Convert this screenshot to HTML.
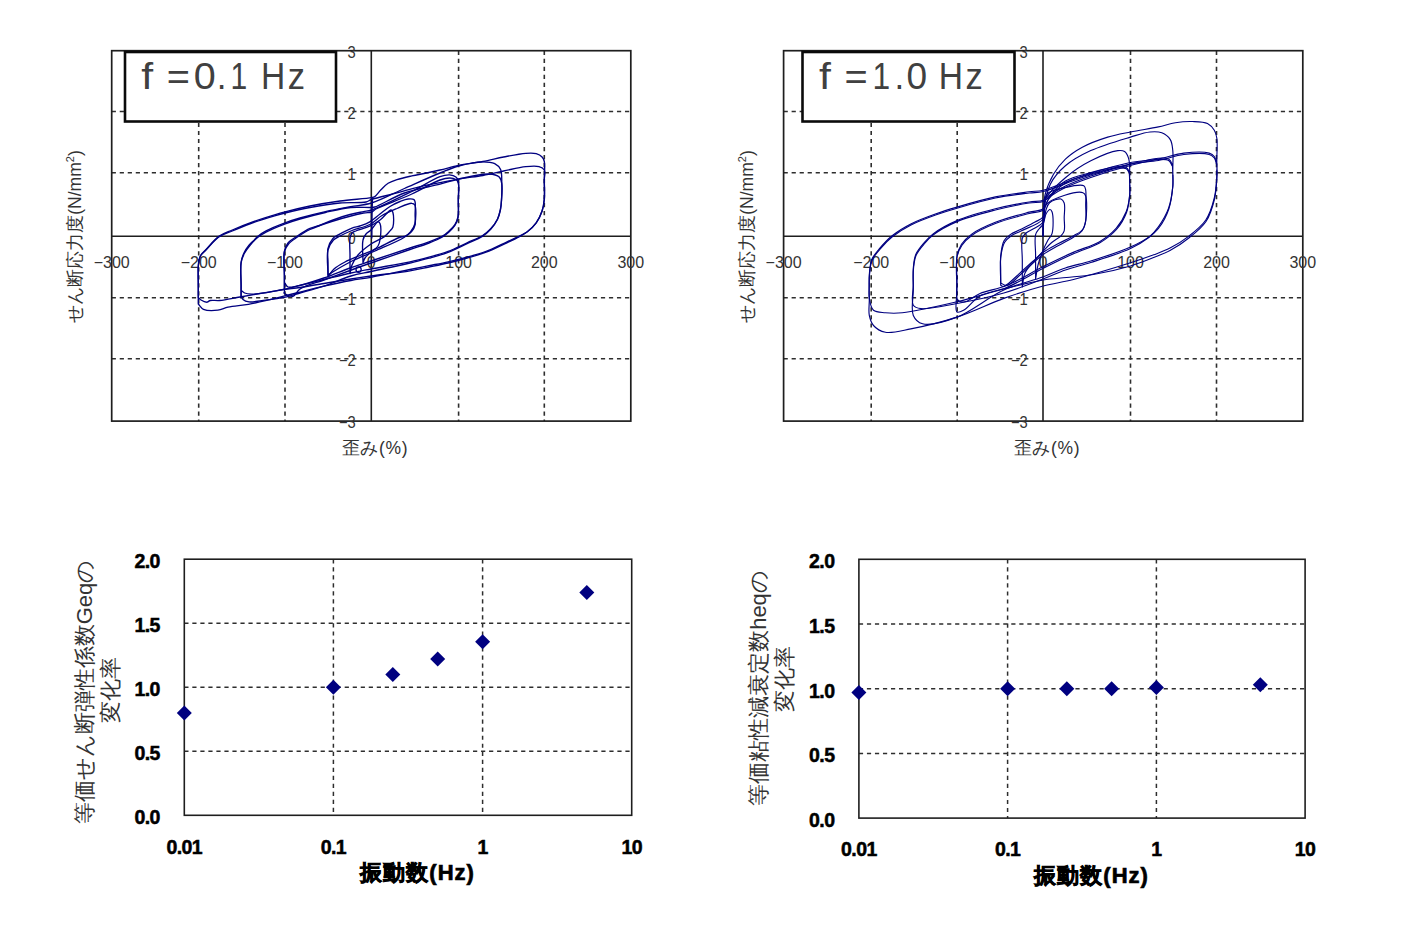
<!DOCTYPE html><html><head><meta charset="utf-8"><style>html,body{margin:0;padding:0;background:#fff;width:1422px;height:946px;overflow:hidden}svg{display:block}text{font-family:"Liberation Sans",sans-serif}</style></head><body>
<svg width="1422" height="946" viewBox="0 0 1422 946">
<line x1="198.7" y1="50.7" x2="198.7" y2="421.1" stroke="#2e2e2e" stroke-width="1.6" stroke-dasharray="4.2 3.82"/>
<line x1="111.7" y1="111.5" x2="630.8" y2="111.5" stroke="#2e2e2e" stroke-width="1.6" stroke-dasharray="4.2 3.82"/>
<line x1="285.0" y1="50.7" x2="285.0" y2="421.1" stroke="#2e2e2e" stroke-width="1.6" stroke-dasharray="4.2 3.82"/>
<line x1="111.7" y1="172.8" x2="630.8" y2="172.8" stroke="#2e2e2e" stroke-width="1.6" stroke-dasharray="4.2 3.82"/>
<line x1="458.6" y1="50.7" x2="458.6" y2="421.1" stroke="#2e2e2e" stroke-width="1.6" stroke-dasharray="4.2 3.82"/>
<line x1="111.7" y1="297.7" x2="630.8" y2="297.7" stroke="#2e2e2e" stroke-width="1.6" stroke-dasharray="4.2 3.82"/>
<line x1="544.3" y1="50.7" x2="544.3" y2="421.1" stroke="#2e2e2e" stroke-width="1.6" stroke-dasharray="4.2 3.82"/>
<line x1="111.7" y1="358.8" x2="630.8" y2="358.8" stroke="#2e2e2e" stroke-width="1.6" stroke-dasharray="4.2 3.82"/>
<line x1="371.3" y1="50.7" x2="371.3" y2="421.1" stroke="#1e1e1e" stroke-width="1.6"/>
<line x1="111.7" y1="236.3" x2="630.8" y2="236.3" stroke="#1e1e1e" stroke-width="1.6"/>
<rect x="111.7" y="50.7" width="519.1" height="370.4" fill="none" stroke="#1e1e1e" stroke-width="1.7"/>
<text transform="translate(355.8,58.0) scale(0.92,1)" font-size="16" fill="#333" text-anchor="end">3</text>
<text transform="translate(355.8,118.8) scale(0.92,1)" font-size="16" fill="#333" text-anchor="end">2</text>
<text transform="translate(355.8,180.1) scale(0.92,1)" font-size="16" fill="#333" text-anchor="end">1</text>
<text transform="translate(355.8,243.6) scale(0.92,1)" font-size="16" fill="#333" text-anchor="end">0</text>
<text transform="translate(355.8,305.0) scale(0.92,1)" font-size="16" fill="#333" text-anchor="end">−1</text>
<text transform="translate(355.8,366.1) scale(0.92,1)" font-size="16" fill="#333" text-anchor="end">−2</text>
<text transform="translate(355.8,428.4) scale(0.92,1)" font-size="16" fill="#333" text-anchor="end">−3</text>
<text x="111.7" y="268" font-size="16" fill="#333" text-anchor="middle">−300</text>
<text x="198.7" y="268" font-size="16" fill="#333" text-anchor="middle">−200</text>
<text x="285.0" y="268" font-size="16" fill="#333" text-anchor="middle">−100</text>
<text x="371.3" y="268" font-size="16" fill="#333" text-anchor="middle">0</text>
<text x="458.6" y="268" font-size="16" fill="#333" text-anchor="middle">100</text>
<text x="544.3" y="268" font-size="16" fill="#333" text-anchor="middle">200</text>
<text x="630.8" y="268" font-size="16" fill="#333" text-anchor="middle">300</text>
<text x="375" y="454.3" font-size="17.5" fill="#333" font-weight="300" text-anchor="middle" letter-spacing="0.6">歪み(%)</text>
<text transform="translate(81,236.5) rotate(-90)" font-size="17.5" fill="#333" font-weight="300" text-anchor="middle">せん断応力度(N/mm<tspan font-size="11" dy="-7">2</tspan><tspan dy="7">)</tspan></text>
<rect x="125.0" y="52" width="211" height="69.5" fill="#fff" stroke="#0a0a0a" stroke-width="2.6"/>
<text transform="translate(142.5,88.8) scale(1.222,1.03)" x="-1" font-size="35" fill="#404040">f</text>
<text transform="translate(169.0,88.8) scale(1.135,1.03)" x="-2" font-size="35" fill="#404040">=</text>
<text transform="translate(195.0,88.8) scale(1.129,1.03)" x="-1" font-size="35" fill="#404040">0</text>
<text transform="translate(219.7,88.8) scale(1.000,1.03)" x="-3" font-size="35" fill="#404040">.</text>
<text transform="translate(233.0,88.8) scale(0.860,1.03)" x="-3" font-size="35" fill="#404040">1</text>
<text transform="translate(264.0,88.8) scale(0.960,1.03)" x="-3" font-size="35" fill="#404040">H</text>
<text transform="translate(288.7,88.8) scale(0.987,1.03)" x="-1" font-size="35" fill="#404040">z</text>
<line x1="871.2" y1="50.7" x2="871.2" y2="421.1" stroke="#2e2e2e" stroke-width="1.6" stroke-dasharray="4.2 3.82"/>
<line x1="783.6" y1="111.5" x2="1302.8" y2="111.5" stroke="#2e2e2e" stroke-width="1.6" stroke-dasharray="4.2 3.82"/>
<line x1="957.2" y1="50.7" x2="957.2" y2="421.1" stroke="#2e2e2e" stroke-width="1.6" stroke-dasharray="4.2 3.82"/>
<line x1="783.6" y1="172.8" x2="1302.8" y2="172.8" stroke="#2e2e2e" stroke-width="1.6" stroke-dasharray="4.2 3.82"/>
<line x1="1130.5" y1="50.7" x2="1130.5" y2="421.1" stroke="#2e2e2e" stroke-width="1.6" stroke-dasharray="4.2 3.82"/>
<line x1="783.6" y1="297.7" x2="1302.8" y2="297.7" stroke="#2e2e2e" stroke-width="1.6" stroke-dasharray="4.2 3.82"/>
<line x1="1216.5" y1="50.7" x2="1216.5" y2="421.1" stroke="#2e2e2e" stroke-width="1.6" stroke-dasharray="4.2 3.82"/>
<line x1="783.6" y1="358.8" x2="1302.8" y2="358.8" stroke="#2e2e2e" stroke-width="1.6" stroke-dasharray="4.2 3.82"/>
<line x1="1043.0" y1="50.7" x2="1043.0" y2="421.1" stroke="#1e1e1e" stroke-width="1.6"/>
<line x1="783.6" y1="236.3" x2="1302.8" y2="236.3" stroke="#1e1e1e" stroke-width="1.6"/>
<rect x="783.6" y="50.7" width="519.2" height="370.4" fill="none" stroke="#1e1e1e" stroke-width="1.7"/>
<text transform="translate(1027.8,58.0) scale(0.92,1)" font-size="16" fill="#333" text-anchor="end">3</text>
<text transform="translate(1027.8,118.8) scale(0.92,1)" font-size="16" fill="#333" text-anchor="end">2</text>
<text transform="translate(1027.8,180.1) scale(0.92,1)" font-size="16" fill="#333" text-anchor="end">1</text>
<text transform="translate(1027.8,243.6) scale(0.92,1)" font-size="16" fill="#333" text-anchor="end">0</text>
<text transform="translate(1027.8,305.0) scale(0.92,1)" font-size="16" fill="#333" text-anchor="end">−1</text>
<text transform="translate(1027.8,366.1) scale(0.92,1)" font-size="16" fill="#333" text-anchor="end">−2</text>
<text transform="translate(1027.8,428.4) scale(0.92,1)" font-size="16" fill="#333" text-anchor="end">−3</text>
<text x="783.6" y="268" font-size="16" fill="#333" text-anchor="middle">−300</text>
<text x="871.2" y="268" font-size="16" fill="#333" text-anchor="middle">−200</text>
<text x="957.2" y="268" font-size="16" fill="#333" text-anchor="middle">−100</text>
<text x="1043.0" y="268" font-size="16" fill="#333" text-anchor="middle">0</text>
<text x="1130.5" y="268" font-size="16" fill="#333" text-anchor="middle">100</text>
<text x="1216.5" y="268" font-size="16" fill="#333" text-anchor="middle">200</text>
<text x="1302.8" y="268" font-size="16" fill="#333" text-anchor="middle">300</text>
<text x="1047" y="454.3" font-size="17.5" fill="#333" font-weight="300" text-anchor="middle" letter-spacing="0.6">歪み(%)</text>
<text transform="translate(753,236.5) rotate(-90)" font-size="17.5" fill="#333" font-weight="300" text-anchor="middle">せん断応力度(N/mm<tspan font-size="11" dy="-7">2</tspan><tspan dy="7">)</tspan></text>
<rect x="802.5" y="52" width="212" height="69.5" fill="#fff" stroke="#0a0a0a" stroke-width="2.6"/>
<text transform="translate(820.2,88.8) scale(1.222,1.03)" x="-1" font-size="35" fill="#404040">f</text>
<text transform="translate(846.7,88.8) scale(1.135,1.03)" x="-2" font-size="35" fill="#404040">=</text>
<text transform="translate(875.2,88.8) scale(0.907,1.03)" x="-3" font-size="35" fill="#404040">1</text>
<text transform="translate(897.4,88.8) scale(1.000,1.03)" x="-3" font-size="35" fill="#404040">.</text>
<text transform="translate(907.5,88.8) scale(1.059,1.03)" x="-1" font-size="35" fill="#404040">0</text>
<text transform="translate(941.7,88.8) scale(0.960,1.03)" x="-3" font-size="35" fill="#404040">H</text>
<text transform="translate(966.4,88.8) scale(0.987,1.03)" x="-1" font-size="35" fill="#404040">z</text>
<line x1="333.4" y1="559.2" x2="333.4" y2="815.3" stroke="#2e2e2e" stroke-width="1.5" stroke-dasharray="4.2 3.82"/>
<line x1="482.6" y1="559.2" x2="482.6" y2="815.3" stroke="#2e2e2e" stroke-width="1.5" stroke-dasharray="4.2 3.82"/>
<line x1="184.3" y1="623.2" x2="631.7" y2="623.2" stroke="#2e2e2e" stroke-width="1.5" stroke-dasharray="4.2 3.82"/>
<line x1="184.3" y1="687.2" x2="631.7" y2="687.2" stroke="#2e2e2e" stroke-width="1.5" stroke-dasharray="4.2 3.82"/>
<line x1="184.3" y1="751.3" x2="631.7" y2="751.3" stroke="#2e2e2e" stroke-width="1.5" stroke-dasharray="4.2 3.82"/>
<rect x="184.3" y="559.2" width="447.4" height="256.1" fill="none" stroke="#1e1e1e" stroke-width="1.6"/>
<text x="159.8" y="568.2" font-size="19.5" font-weight="bold" fill="#000" stroke="#000" stroke-width="0.5" text-anchor="end" letter-spacing="-0.6">2.0</text>
<text x="159.8" y="632.2" font-size="19.5" font-weight="bold" fill="#000" stroke="#000" stroke-width="0.5" text-anchor="end" letter-spacing="-0.6">1.5</text>
<text x="159.8" y="696.2" font-size="19.5" font-weight="bold" fill="#000" stroke="#000" stroke-width="0.5" text-anchor="end" letter-spacing="-0.6">1.0</text>
<text x="159.8" y="760.3" font-size="19.5" font-weight="bold" fill="#000" stroke="#000" stroke-width="0.5" text-anchor="end" letter-spacing="-0.6">0.5</text>
<text x="159.8" y="824.3" font-size="19.5" font-weight="bold" fill="#000" stroke="#000" stroke-width="0.5" text-anchor="end" letter-spacing="-0.6">0.0</text>
<text x="184.3" y="853.6" font-size="19.5" font-weight="bold" fill="#000" stroke="#000" stroke-width="0.5" text-anchor="middle" letter-spacing="-0.6">0.01</text>
<text x="333.4" y="853.6" font-size="19.5" font-weight="bold" fill="#000" stroke="#000" stroke-width="0.5" text-anchor="middle" letter-spacing="-0.6">0.1</text>
<text x="482.6" y="853.6" font-size="19.5" font-weight="bold" fill="#000" stroke="#000" stroke-width="0.5" text-anchor="middle" letter-spacing="-0.6">1</text>
<text x="631.7" y="853.6" font-size="19.5" font-weight="bold" fill="#000" stroke="#000" stroke-width="0.5" text-anchor="middle" letter-spacing="-0.6">10</text>
<text x="417.6" y="879.8" font-size="22" font-weight="bold" fill="#000" stroke="#000" stroke-width="0.7" text-anchor="middle" letter-spacing="1">振動数(Hz)</text>
<path d="M184.3 705.4L191.8 712.9L184.3 720.4L176.8 712.9Z" fill="#000080"/>
<path d="M333.4 679.8L340.9 687.2L333.4 694.8L325.9 687.2Z" fill="#000080"/>
<path d="M392.8 666.9L400.3 674.4L392.8 681.9L385.3 674.4Z" fill="#000080"/>
<path d="M437.7 651.6L445.2 659.1L437.7 666.6L430.2 659.1Z" fill="#000080"/>
<path d="M482.6 634.3L490.1 641.8L482.6 649.3L475.1 641.8Z" fill="#000080"/>
<path d="M586.8 585.0L594.3 592.5L586.8 600.0L579.3 592.5Z" fill="#000080"/>
<text transform="translate(92,692) rotate(-90)" font-size="22" fill="#333" font-weight="300" text-anchor="middle">等価せん断弾性係数Geqの</text>
<text transform="translate(118,690) rotate(-90)" font-size="22" fill="#333" font-weight="300" text-anchor="middle">変化率</text>
<line x1="1007.6" y1="559.3" x2="1007.6" y2="818.1" stroke="#2e2e2e" stroke-width="1.5" stroke-dasharray="4.2 3.82"/>
<line x1="1156.4" y1="559.3" x2="1156.4" y2="818.1" stroke="#2e2e2e" stroke-width="1.5" stroke-dasharray="4.2 3.82"/>
<line x1="858.9" y1="624.0" x2="1305.1" y2="624.0" stroke="#2e2e2e" stroke-width="1.5" stroke-dasharray="4.2 3.82"/>
<line x1="858.9" y1="688.7" x2="1305.1" y2="688.7" stroke="#2e2e2e" stroke-width="1.5" stroke-dasharray="4.2 3.82"/>
<line x1="858.9" y1="753.4" x2="1305.1" y2="753.4" stroke="#2e2e2e" stroke-width="1.5" stroke-dasharray="4.2 3.82"/>
<rect x="858.9" y="559.3" width="446.2" height="258.8" fill="none" stroke="#1e1e1e" stroke-width="1.6"/>
<text x="834.4" y="568.3" font-size="19.5" font-weight="bold" fill="#000" stroke="#000" stroke-width="0.5" text-anchor="end" letter-spacing="-0.6">2.0</text>
<text x="834.4" y="633.0" font-size="19.5" font-weight="bold" fill="#000" stroke="#000" stroke-width="0.5" text-anchor="end" letter-spacing="-0.6">1.5</text>
<text x="834.4" y="697.7" font-size="19.5" font-weight="bold" fill="#000" stroke="#000" stroke-width="0.5" text-anchor="end" letter-spacing="-0.6">1.0</text>
<text x="834.4" y="762.4" font-size="19.5" font-weight="bold" fill="#000" stroke="#000" stroke-width="0.5" text-anchor="end" letter-spacing="-0.6">0.5</text>
<text x="834.4" y="827.1" font-size="19.5" font-weight="bold" fill="#000" stroke="#000" stroke-width="0.5" text-anchor="end" letter-spacing="-0.6">0.0</text>
<text x="858.9" y="856.4" font-size="19.5" font-weight="bold" fill="#000" stroke="#000" stroke-width="0.5" text-anchor="middle" letter-spacing="-0.6">0.01</text>
<text x="1007.6" y="856.4" font-size="19.5" font-weight="bold" fill="#000" stroke="#000" stroke-width="0.5" text-anchor="middle" letter-spacing="-0.6">0.1</text>
<text x="1156.4" y="856.4" font-size="19.5" font-weight="bold" fill="#000" stroke="#000" stroke-width="0.5" text-anchor="middle" letter-spacing="-0.6">1</text>
<text x="1305.1" y="856.4" font-size="19.5" font-weight="bold" fill="#000" stroke="#000" stroke-width="0.5" text-anchor="middle" letter-spacing="-0.6">10</text>
<text x="1091.6" y="882.6" font-size="22" font-weight="bold" fill="#000" stroke="#000" stroke-width="0.7" text-anchor="middle" letter-spacing="1">振動数(Hz)</text>
<path d="M858.9 685.1L866.4 692.6L858.9 700.1L851.4 692.6Z" fill="#000080"/>
<path d="M1007.6 681.2L1015.1 688.7L1007.6 696.2L1000.1 688.7Z" fill="#000080"/>
<path d="M1066.8 681.2L1074.3 688.7L1066.8 696.2L1059.3 688.7Z" fill="#000080"/>
<path d="M1111.6 681.2L1119.1 688.7L1111.6 696.2L1104.1 688.7Z" fill="#000080"/>
<path d="M1156.4 679.9L1163.9 687.4L1156.4 694.9L1148.9 687.4Z" fill="#000080"/>
<path d="M1260.3 677.3L1267.8 684.8L1260.3 692.3L1252.8 684.8Z" fill="#000080"/>
<text transform="translate(766,688) rotate(-90)" font-size="22" fill="#333" font-weight="300" text-anchor="middle">等価粘性減衰定数heqの</text>
<text transform="translate(792,679) rotate(-90)" font-size="22" fill="#333" font-weight="300" text-anchor="middle">変化率</text>
<g fill="none" stroke="#000080" stroke-width="1.35" stroke-linejoin="round" stroke-linecap="round">
<path d="M198.3 304.0C198.3 297.7 198.3 291.5 198.3 285.0C198.3 278.2 197.8 269.4 198.5 264.0C198.9 260.5 199.2 257.9 200.5 255.5C201.7 253.1 203.8 251.9 206.0 249.5C209.4 246.0 214.2 239.7 218.8 236.4C223.0 233.4 227.3 232.2 232.3 230.0C238.5 227.3 246.3 224.1 253.4 221.6C260.4 219.1 268.7 216.5 274.6 214.8C278.7 213.6 280.8 213.0 285.1 211.9C291.6 210.2 301.3 207.8 310.0 206.0C319.5 204.1 329.9 202.4 340.0 201.0C350.4 199.6 366.4 198.6 371.5 197.6C373.2 197.3 373.7 197.3 374.8 196.6C376.6 195.4 378.6 192.2 380.7 190.0C383.0 187.7 385.4 185.0 388.1 183.3C390.8 181.6 393.6 180.7 397.0 179.6C401.3 178.2 406.9 177.0 411.8 175.9C416.7 174.8 421.8 174.0 426.6 173.0C431.2 172.0 435.2 171.1 440.0 170.0C445.7 168.7 452.0 166.8 458.6 165.4C466.1 163.9 475.1 163.0 482.9 161.5C490.1 160.1 496.6 158.4 503.6 157.0C510.9 155.6 519.8 153.7 525.8 153.3C529.9 153.0 533.3 152.8 536.2 153.6C538.5 154.3 540.7 155.5 542.1 157.0C543.3 158.3 543.8 159.4 544.3 161.5C545.2 165.5 544.3 173.8 544.3 180.0C544.3 186.3 544.8 193.6 544.3 199.2C543.9 203.6 543.4 207.1 542.1 211.0C540.7 215.1 538.7 219.4 536.2 222.9C533.8 226.3 530.3 229.5 527.3 231.8C524.7 233.7 522.5 234.6 519.4 236.2C515.4 238.2 510.2 240.5 505.1 242.8C499.2 245.5 492.5 249.0 486.1 251.4C479.8 253.7 473.5 255.4 467.1 257.1C460.8 258.8 454.5 260.4 448.1 261.8C441.8 263.2 435.4 264.4 429.0 265.7C422.7 267.0 417.5 268.0 410.0 269.5C399.3 271.6 381.9 275.3 371.0 277.3C363.2 278.7 358.1 279.2 350.9 280.5C342.5 282.0 333.1 284.0 323.9 286.1C314.2 288.3 303.7 291.2 294.3 293.5C285.8 295.6 277.9 297.8 270.0 299.6C262.6 301.3 255.5 303.0 248.4 304.3C241.5 305.5 233.6 306.0 228.0 307.2C224.0 308.1 221.6 309.8 217.9 310.2C213.6 310.7 206.9 310.9 203.5 309.3C201.1 308.2 200.0 305.8 198.3 304.0"/>
<path d="M198.3 297.5C198.3 293.3 198.3 289.7 198.3 285.0C198.3 278.9 197.8 269.3 198.5 264.0C198.9 260.7 199.2 258.3 200.5 256.0C201.7 253.7 203.8 252.4 206.0 250.0C209.4 246.5 214.1 240.2 218.8 237.0C223.0 234.1 227.3 233.1 232.3 231.0C238.5 228.4 246.3 225.0 253.4 222.5C260.4 220.0 268.7 217.5 274.6 215.8C278.7 214.6 280.8 214.0 285.1 213.0C291.6 211.4 301.3 209.1 310.0 207.5C319.5 205.7 330.3 203.9 340.0 203.0C349.0 202.2 360.6 203.3 366.0 202.0C368.6 201.4 368.9 200.4 371.5 199.5C376.8 197.6 388.8 195.1 397.0 192.9C404.7 190.9 410.7 188.9 419.2 186.9C430.4 184.3 447.0 181.1 458.6 179.1C467.7 177.5 475.1 176.9 482.9 175.5C490.1 174.2 496.6 172.5 503.6 171.0C510.9 169.5 519.3 167.2 525.8 166.6C530.7 166.1 535.7 165.6 539.0 166.6C541.3 167.3 543.3 168.2 544.3 170.0C545.5 172.3 544.3 176.1 544.3 180.0C544.3 185.4 544.8 193.6 544.3 199.2C543.9 203.6 543.4 207.1 542.1 211.0C540.7 215.1 538.7 219.4 536.2 222.9C533.8 226.3 530.3 229.4 527.3 231.8C524.7 233.8 522.5 234.9 519.4 236.6C515.4 238.8 510.2 241.2 505.1 243.6C499.2 246.4 492.5 249.8 486.1 252.2C479.8 254.6 473.5 256.2 467.1 258.0C460.8 259.8 454.5 261.5 448.1 263.0C441.8 264.5 435.4 265.7 429.0 267.0C422.7 268.3 417.5 269.6 410.0 270.8C399.3 272.6 381.9 274.5 371.0 276.0C363.2 277.1 358.1 277.9 350.9 279.0C342.6 280.3 332.6 282.0 323.9 283.5C315.7 284.9 307.1 286.4 300.0 287.5C294.3 288.3 289.5 288.8 284.4 289.5C279.5 290.2 275.7 290.9 270.0 291.8C261.8 293.2 248.9 295.4 239.9 297.0C232.5 298.3 225.1 300.0 219.6 300.5C215.9 300.8 212.6 300.0 210.3 300.5C208.8 300.8 208.2 302.1 206.9 302.2C205.2 302.3 202.5 300.9 201.0 300.0C199.8 299.3 199.2 298.3 198.3 297.5"/>
<path d="M241.1 297.0C241.1 293.0 241.1 289.6 241.1 285.0C241.1 278.6 240.2 267.9 241.1 262.0C241.7 258.2 242.7 255.6 244.1 252.7C245.4 249.9 247.4 247.2 249.2 245.0C250.8 243.1 252.8 241.5 254.3 240.0C255.6 238.7 256.2 237.6 257.7 236.4C259.8 234.6 262.6 232.7 266.1 230.9C271.1 228.3 279.1 225.1 285.1 222.9C290.3 220.9 294.3 219.6 300.0 218.0C307.3 215.9 316.9 213.5 325.4 211.6C333.8 209.7 342.8 208.1 350.8 206.6C358.0 205.3 364.0 205.3 371.5 203.0C381.4 200.0 393.2 193.4 404.4 188.5C416.0 183.4 430.0 177.0 440.0 173.0C447.2 170.1 452.1 167.8 458.8 166.0C466.2 164.0 476.3 161.8 482.9 161.8C487.5 161.8 491.6 162.1 494.7 163.7C497.3 165.0 499.4 166.9 500.6 169.6C502.2 173.1 501.6 179.1 501.8 184.0C502.0 189.2 501.8 195.4 501.5 200.0C501.3 203.6 501.1 206.4 500.4 209.5C499.7 212.7 499.0 215.9 497.5 219.0C495.9 222.3 493.5 225.7 490.9 228.5C488.4 231.3 485.7 233.5 482.3 235.7C478.1 238.4 472.5 240.3 467.1 242.8C461.1 245.5 454.5 249.0 448.1 251.4C441.8 253.7 435.4 255.4 429.0 257.1C422.7 258.8 417.5 260.2 410.0 261.8C399.3 264.1 381.9 266.9 371.0 269.0C363.2 270.5 358.1 271.4 350.9 273.0C342.5 274.8 332.6 277.4 323.9 279.5C315.7 281.5 307.1 283.7 300.0 285.4C294.3 286.8 289.8 288.1 284.5 289.2C279.1 290.4 273.5 291.5 268.0 292.3C262.5 293.1 255.9 294.3 251.6 294.2C248.8 294.1 246.5 293.8 244.6 293.0C243.1 292.4 242.3 291.3 241.1 290.4"/>
<path d="M241.1 296.0C241.1 292.3 241.1 289.3 241.1 285.0C241.1 278.9 240.2 268.8 241.1 263.0C241.7 259.1 242.8 256.4 244.3 253.5C245.7 250.7 247.4 248.5 249.5 246.0C251.9 243.1 254.9 239.6 257.9 237.2C260.6 235.0 263.0 233.6 266.5 231.8C271.5 229.2 279.4 226.0 285.3 223.8C290.5 221.9 294.4 220.6 300.0 219.0C307.3 216.9 316.9 214.4 325.4 212.5C333.8 210.6 342.7 208.3 350.8 207.5C358.0 206.8 367.6 207.8 371.5 207.5C373.1 207.4 373.2 207.5 374.8 207.0C379.8 205.5 393.9 196.8 404.4 193.0C415.5 189.0 430.0 186.7 440.0 184.1C447.3 182.2 451.8 180.5 458.8 179.0C467.6 177.1 481.4 173.6 488.8 174.0C493.2 174.3 497.1 175.0 499.2 177.0C501.0 178.7 501.3 181.1 501.8 184.0C502.5 188.2 501.8 195.3 501.5 200.0C501.3 203.7 501.1 206.7 500.4 210.0C499.7 213.2 499.0 216.4 497.5 219.5C495.9 222.8 493.4 226.2 490.9 229.0C488.4 231.8 485.8 234.2 482.3 236.4C478.1 239.1 472.5 241.1 467.1 243.6C461.1 246.4 454.5 249.8 448.1 252.3C441.8 254.7 435.4 256.4 429.0 258.2C422.7 260.0 417.5 261.2 410.0 263.0C399.3 265.5 381.9 269.1 371.0 271.5C363.2 273.2 358.0 273.9 350.9 276.0C342.5 278.5 332.7 283.2 323.9 286.1C315.7 288.8 307.1 291.0 300.0 293.0C294.3 294.6 290.2 296.2 284.5 297.4C277.7 298.8 268.2 299.8 261.7 300.6C256.9 301.2 252.4 302.4 249.0 301.9C246.6 301.6 244.3 300.7 243.0 299.5C242.0 298.6 241.7 297.2 241.1 296.1"/>
<path d="M284.4 293.0C284.4 287.0 284.4 281.4 284.4 275.0C284.4 267.6 283.2 256.9 284.4 251.1C285.1 247.6 286.1 245.4 288.0 243.0C290.1 240.3 293.7 238.5 297.0 236.2C300.9 233.6 305.9 230.2 310.0 228.4C313.3 226.9 316.1 226.7 319.4 225.5C323.3 224.1 327.2 222.2 331.7 220.5C337.2 218.5 344.3 216.0 350.0 214.5C354.8 213.2 359.6 212.4 363.5 211.6C366.5 211.0 367.9 211.2 371.5 210.0C379.9 207.3 399.6 197.5 411.8 191.5C422.1 186.4 432.9 179.2 440.0 176.7C443.9 175.3 446.8 174.7 449.6 174.9C451.9 175.1 454.4 175.8 455.9 177.0C457.2 178.0 457.8 179.2 458.3 181.2C459.3 185.1 458.4 193.9 458.3 200.0C458.2 205.8 458.9 212.5 458.0 217.0C457.4 220.1 456.4 222.3 454.9 224.6C453.4 227.0 451.1 229.1 449.0 231.0C446.9 232.9 445.1 234.6 442.4 236.2C438.8 238.3 433.9 240.1 429.0 241.9C423.3 244.0 417.5 245.6 410.0 248.0C399.3 251.5 382.0 257.3 371.0 261.0C362.9 263.7 357.3 265.4 350.0 268.0C341.7 271.0 332.7 275.0 323.9 278.0C315.1 281.0 303.6 284.8 297.0 286.1C293.2 286.8 290.2 287.9 288.0 287.0C286.3 286.3 285.6 284.0 284.4 282.5"/>
<path d="M284.4 289.0C284.4 284.3 284.4 280.2 284.4 275.0C284.4 268.3 283.1 257.6 284.4 252.0C285.2 248.5 286.5 246.4 288.5 244.0C290.7 241.3 294.2 239.3 297.5 237.0C301.3 234.4 305.1 231.8 310.0 229.5C316.1 226.6 323.7 224.0 331.7 221.5C341.2 218.5 356.4 214.4 363.5 213.0C367.0 212.3 369.3 212.8 371.5 212.0C373.3 211.3 373.7 210.2 376.0 209.0C382.2 205.7 400.7 199.1 411.8 194.0C421.8 189.4 433.0 182.4 440.0 180.0C443.9 178.6 446.7 178.0 449.6 178.0C451.9 178.0 454.4 178.5 455.9 179.5C457.1 180.3 457.8 181.3 458.3 183.0C459.4 186.4 458.3 194.3 458.3 200.0C458.3 205.8 458.9 212.9 458.0 217.5C457.4 220.8 456.4 223.1 454.9 225.5C453.4 227.9 451.1 230.1 449.0 232.0C446.9 233.9 445.1 235.4 442.4 237.0C438.8 239.1 433.9 241.1 429.0 243.0C423.3 245.3 417.5 246.9 410.0 249.5C399.3 253.2 382.0 259.1 371.0 263.0C362.9 265.8 357.4 267.8 350.0 270.5C341.8 273.5 332.4 276.9 323.9 280.0C315.7 283.0 305.2 285.5 300.0 289.0C296.8 291.2 295.8 295.3 293.4 296.1C291.4 296.8 288.7 295.7 287.0 295.0C285.7 294.5 284.9 293.7 283.9 293.0"/>
<path d="M328.0 277.1C328.0 272.1 328.0 266.9 328.0 262.0C328.0 257.3 327.0 252.5 328.0 248.4C328.9 244.7 330.9 240.8 332.9 238.5C334.5 236.7 336.0 236.2 338.3 234.9C341.8 232.9 348.0 229.6 352.0 228.1C354.9 227.0 357.1 226.9 359.8 226.0C363.0 224.9 366.6 223.7 369.8 221.8C373.3 219.8 376.6 216.6 380.0 214.0C383.3 211.5 386.6 208.6 390.0 206.5C393.2 204.5 396.8 202.8 400.0 201.5C402.8 200.4 405.6 199.2 408.1 199.0C410.2 198.8 412.9 198.8 414.0 199.6C414.7 200.1 414.8 200.8 415.1 202.0C415.7 204.6 415.1 211.0 415.1 215.0C415.1 218.5 415.8 221.9 415.1 224.8C414.5 227.3 413.3 229.6 411.8 231.4C410.3 233.3 408.0 234.9 405.9 235.9C403.9 236.9 402.2 236.5 399.4 237.5C393.8 239.5 382.2 246.2 375.0 249.4C369.4 251.9 365.0 253.4 360.0 255.5C355.0 257.6 349.5 259.6 345.0 262.0C341.0 264.1 336.6 266.6 334.0 269.0C332.2 270.7 331.1 272.5 330.0 274.0C329.2 275.1 328.7 276.1 328.0 277.1"/>
<path d="M328.0 275.0C328.0 266.7 326.4 256.3 328.0 250.0C329.1 245.7 331.2 242.4 333.5 240.0C335.4 238.0 337.5 237.4 340.0 236.0C343.3 234.2 347.6 232.3 352.0 230.5C357.3 228.4 364.6 227.2 369.8 224.5C374.5 222.1 377.6 218.1 382.0 215.5C386.6 212.8 392.0 210.6 397.0 208.5C401.9 206.5 408.8 203.0 411.8 203.3C413.2 203.4 414.1 203.8 414.8 205.0C416.4 207.8 416.0 219.1 414.8 224.0C414.0 227.4 412.3 229.7 410.5 232.0C408.7 234.2 407.1 235.5 404.0 237.5C397.9 241.4 384.1 246.9 375.0 251.0C366.9 254.6 358.9 257.6 352.0 261.0C346.1 263.9 340.4 267.4 336.0 270.0C332.9 271.9 330.7 273.3 328.0 275.0"/>
<path d="M350.0 273.5C350.0 267.3 350.0 261.0 350.0 255.0C350.0 249.3 349.3 242.5 350.0 238.5C350.4 236.1 350.9 234.3 352.0 233.0C352.9 231.9 354.1 231.7 355.8 231.0C359.0 229.6 365.6 228.2 369.8 226.2C373.6 224.4 376.6 222.5 380.0 220.0C383.8 217.2 389.0 209.8 391.1 210.0C392.0 210.1 392.5 211.2 392.9 212.5C393.8 215.3 394.0 223.7 392.9 227.0C392.2 229.0 390.9 229.9 389.6 231.4C388.1 233.1 386.7 234.9 384.4 236.6C381.1 239.1 375.3 241.0 371.0 244.0C366.5 247.1 361.3 251.1 358.0 255.0C355.3 258.2 353.3 261.7 352.0 265.0C350.8 267.9 350.7 270.7 350.0 273.5"/>
<path d="M363.0 262.7C363.0 255.1 361.8 245.0 363.0 240.0C363.6 237.3 364.6 235.7 366.0 234.0C367.3 232.4 369.3 231.7 371.0 230.0C373.2 227.8 376.3 221.9 378.0 221.8C378.8 221.7 379.5 222.5 380.0 223.5C381.1 225.9 380.8 233.9 380.3 238.0C379.9 241.1 379.5 243.7 378.0 246.0C376.4 248.4 373.2 250.0 371.0 252.0C368.9 254.0 366.4 256.0 365.0 258.0C363.9 259.6 363.7 261.1 363.0 262.7"/>
<path d="M371.8 238.0C371.9 230.3 371.9 222.1 372.0 215.0C372.1 208.9 372.3 203.7 372.5 198.0"/>
<ellipse cx="358.6" cy="269.6" rx="2.6" ry="2.8"/>
</g>
<g fill="none" stroke="#000080" stroke-width="1.15" stroke-linejoin="round" stroke-linecap="round">
<path d="M1043.0 236.0C1043.2 229.0 1043.1 221.9 1043.5 215.0C1043.9 208.1 1043.5 201.3 1045.1 194.6C1046.8 187.7 1050.0 180.4 1053.5 174.3C1056.8 168.6 1060.7 163.6 1065.4 159.1C1070.3 154.5 1075.9 150.7 1082.3 147.2C1089.7 143.2 1099.4 139.7 1107.7 137.1C1115.4 134.7 1122.5 133.6 1130.5 132.0C1139.3 130.2 1150.3 128.6 1158.4 126.9C1164.8 125.5 1169.7 123.6 1175.4 122.7C1181.0 121.8 1186.8 121.3 1192.3 121.5C1197.5 121.7 1203.7 121.6 1207.5 123.5C1210.5 125.0 1212.7 127.8 1214.3 130.3C1215.7 132.6 1216.3 134.7 1216.8 138.0C1217.7 143.4 1216.8 153.1 1216.8 160.0C1216.8 166.2 1217.2 171.6 1216.8 177.7C1216.4 184.2 1216.0 191.2 1214.3 198.0C1212.5 205.3 1210.1 213.6 1205.8 220.0C1201.6 226.3 1194.9 231.4 1188.9 236.1C1183.0 240.7 1176.2 244.9 1170.0 248.1C1164.5 251.0 1159.6 252.6 1153.7 254.8C1146.7 257.4 1140.0 259.8 1130.5 262.8C1115.7 267.5 1089.6 275.4 1073.5 279.5C1061.9 282.4 1053.9 283.2 1043.2 286.0C1030.9 289.3 1017.4 293.5 1003.8 298.4C988.8 303.8 972.7 312.0 957.0 317.1C941.7 322.1 924.0 326.3 910.8 328.9C901.1 330.8 892.1 333.6 885.4 332.3C880.5 331.3 876.2 328.6 873.5 325.5C871.1 322.8 870.1 319.2 869.3 315.4C868.4 310.9 869.3 305.8 869.3 300.0C869.3 292.6 868.7 282.1 869.3 274.8C869.8 269.0 869.9 264.1 871.8 259.5C873.6 255.1 877.1 251.5 880.3 247.7C883.8 243.6 887.5 239.5 892.1 235.8C897.4 231.5 903.9 227.5 910.8 224.0C918.4 220.1 928.0 216.7 936.1 213.8C943.3 211.2 948.9 209.5 957.0 207.1C967.8 203.9 982.9 199.5 995.4 196.9C1007.0 194.5 1020.4 193.0 1029.2 191.8C1034.9 191.0 1037.5 191.6 1043.2 190.2C1053.1 187.9 1068.5 180.4 1082.3 176.0C1097.4 171.1 1116.5 165.3 1130.5 162.5C1141.0 160.4 1149.4 160.7 1158.4 159.1C1167.1 157.5 1175.3 154.1 1183.8 153.1C1192.2 152.1 1204.1 151.6 1209.2 153.1C1211.7 153.9 1213.1 154.9 1214.3 156.5C1215.7 158.4 1216.3 161.1 1216.8 164.1C1217.4 168.0 1216.8 173.4 1216.8 178.0"/>
<path d="M1216.8 170.0C1216.8 172.7 1217.0 174.7 1216.8 178.0C1216.5 183.3 1216.2 192.0 1214.5 199.0C1212.7 206.5 1210.2 215.0 1206.0 221.5C1201.8 227.8 1195.5 232.7 1189.5 237.5C1183.5 242.4 1176.4 247.0 1170.0 250.5C1164.5 253.5 1159.6 255.1 1153.7 257.5C1146.7 260.3 1139.2 263.4 1130.5 266.0C1119.7 269.2 1104.8 272.6 1093.4 274.5C1083.8 276.1 1075.3 276.6 1066.7 277.5C1058.6 278.4 1052.0 278.5 1043.2 280.0C1031.7 281.9 1017.5 285.6 1003.8 289.0C988.8 292.8 973.3 297.9 957.0 301.8C939.5 305.9 915.4 311.5 902.3 312.8C895.1 313.5 890.5 313.3 885.4 312.8C881.1 312.3 876.2 312.6 873.5 310.3C870.8 307.9 870.0 302.5 869.3 298.4C868.6 294.1 869.3 289.1 869.3 285.0C869.3 281.4 869.2 278.6 869.5 275.0C869.9 270.6 870.2 264.9 872.0 260.5C873.8 256.1 877.2 252.3 880.5 248.5C884.0 244.4 887.7 240.5 892.3 236.8C897.6 232.6 904.1 228.5 911.0 225.0C918.6 221.1 928.2 217.7 936.3 214.8C943.5 212.2 949.0 210.5 957.0 208.2C967.8 205.0 982.9 200.6 995.4 198.0C1007.0 195.6 1020.4 194.1 1029.2 193.0C1034.9 192.3 1037.5 192.8 1043.2 191.5C1053.1 189.2 1068.5 181.9 1082.3 177.5C1097.4 172.7 1116.5 166.8 1130.5 164.0C1141.0 161.9 1149.4 162.1 1158.4 160.5C1167.1 158.9 1175.3 155.5 1183.8 154.5C1192.2 153.5 1204.1 152.9 1209.2 154.5C1211.7 155.3 1213.0 156.4 1214.3 158.0C1215.7 159.8 1216.0 162.7 1216.8 165.0"/>
<path d="M1043.0 236.0C1043.3 227.3 1042.8 218.6 1044.0 210.0C1045.2 201.4 1046.5 191.9 1050.2 184.4C1053.8 177.2 1059.1 171.2 1065.4 165.8C1072.4 159.8 1081.1 155.1 1090.8 150.6C1102.3 145.3 1119.5 140.4 1130.5 137.1C1138.1 134.8 1144.3 132.5 1150.0 132.0C1154.4 131.6 1158.4 131.5 1161.8 132.8C1165.1 134.1 1168.5 136.7 1170.3 139.6C1172.2 142.6 1172.3 146.4 1172.8 150.6C1173.4 156.1 1172.8 163.8 1172.8 170.0C1172.8 175.6 1173.3 180.3 1172.8 186.1C1172.2 192.9 1171.1 201.2 1168.6 208.1C1166.2 214.8 1161.9 221.8 1158.4 226.8C1155.7 230.6 1153.7 233.2 1150.0 236.1C1145.1 240.0 1138.3 243.5 1130.5 247.0C1119.8 251.9 1102.6 257.3 1090.8 261.0C1081.4 263.9 1073.5 265.3 1065.4 268.0C1057.6 270.6 1051.4 273.9 1042.8 277.0C1031.6 281.1 1017.1 284.0 1003.8 290.0C988.6 296.9 971.8 311.5 957.0 317.1C945.0 321.6 930.1 325.9 922.6 323.8C918.1 322.5 915.1 319.5 913.3 315.4C910.7 309.6 913.3 298.2 913.3 290.0C913.3 282.4 912.7 274.4 913.3 268.0C913.8 262.9 914.0 258.7 915.8 254.5C917.6 250.2 921.3 246.1 924.3 242.6C927.0 239.4 929.0 237.0 932.8 234.1C938.6 229.7 947.8 224.5 957.0 220.6C968.1 215.9 982.9 212.0 995.4 208.8C1007.0 205.9 1020.4 203.4 1029.2 202.0C1034.9 201.1 1039.5 201.8 1043.2 200.3C1046.1 199.1 1047.2 196.9 1050.0 195.0C1054.0 192.3 1059.5 188.9 1065.4 186.0C1072.7 182.5 1081.3 179.3 1090.8 176.0C1102.5 172.0 1118.4 167.2 1130.5 164.1C1140.6 161.5 1151.4 158.6 1158.4 158.2C1162.6 157.9 1166.3 157.7 1168.6 159.1C1170.4 160.1 1171.3 162.0 1172.0 164.1C1173.0 166.9 1172.5 171.4 1172.8 175.0"/>
<path d="M1172.8 175.0C1172.8 178.8 1173.2 182.0 1172.8 186.5C1172.2 192.8 1171.2 202.0 1168.8 209.0C1166.5 215.8 1162.6 223.0 1158.8 228.0C1155.8 232.0 1152.8 234.4 1148.8 237.5C1143.8 241.3 1138.0 245.0 1130.5 248.5C1120.0 253.4 1102.6 258.7 1090.8 262.5C1081.4 265.5 1073.5 267.2 1065.4 270.0C1057.6 272.7 1051.5 275.8 1043.0 279.0C1031.8 283.3 1017.6 289.0 1003.8 293.0C989.0 297.3 971.6 300.8 957.0 303.5C944.2 305.8 928.4 309.7 920.9 308.6C917.3 308.1 914.8 307.6 913.3 305.2C910.9 301.5 913.3 291.4 913.3 285.0C913.3 279.2 913.0 273.7 913.5 268.5C914.0 263.9 914.3 259.6 916.0 255.5C917.8 251.2 921.5 247.0 924.5 243.5C927.2 240.3 929.2 237.9 933.0 235.0C938.8 230.6 947.8 225.5 957.0 221.6C968.1 216.9 982.9 213.2 995.4 210.0C1007.0 207.1 1020.3 204.4 1029.2 203.0C1034.9 202.1 1039.5 202.9 1043.2 201.5C1046.1 200.4 1047.2 198.3 1050.0 196.5C1054.0 193.8 1059.5 190.4 1065.4 187.5C1072.7 184.0 1081.3 180.8 1090.8 177.5C1102.5 173.4 1118.4 168.6 1130.5 165.5C1140.6 162.9 1151.4 159.9 1158.4 159.5C1162.6 159.3 1166.3 159.1 1168.6 160.5C1170.4 161.6 1170.9 163.8 1172.0 165.5"/>
<path d="M1043.0 236.0C1043.3 229.0 1043.6 221.4 1044.0 215.0C1044.3 209.5 1042.9 204.9 1045.1 199.7C1048.2 192.5 1057.8 184.2 1065.4 177.7C1073.0 171.2 1081.9 165.3 1090.8 160.8C1099.4 156.4 1111.7 151.3 1117.8 150.6C1120.8 150.3 1122.8 150.3 1124.6 151.5C1126.6 152.9 1127.9 155.8 1128.8 159.1C1130.2 164.2 1129.6 173.7 1129.7 180.0C1129.8 185.3 1130.2 189.6 1129.7 194.6C1129.2 200.1 1128.4 206.0 1126.3 211.5C1124.0 217.3 1120.5 223.4 1116.1 228.4C1111.5 233.6 1105.7 238.2 1099.2 242.0C1091.9 246.3 1082.6 248.3 1073.8 252.1C1063.9 256.4 1053.5 261.5 1042.8 266.8C1031.2 272.6 1018.0 280.9 1006.7 285.5C997.3 289.3 987.5 290.4 980.0 293.5C974.1 296.0 968.9 301.1 964.9 301.8C962.6 302.2 960.4 301.8 959.0 301.0C958.0 300.4 957.5 299.8 957.0 298.4C955.9 295.1 957.0 286.5 957.0 280.0C957.0 272.6 955.8 262.6 957.0 256.1C957.9 251.4 959.2 247.9 961.5 244.3C964.0 240.5 967.3 237.3 971.7 234.1C977.7 229.8 986.6 225.8 995.4 222.3C1005.5 218.3 1020.3 214.5 1029.2 212.1C1034.9 210.6 1039.7 211.5 1043.2 208.8C1046.7 206.1 1046.9 200.2 1050.0 196.0C1053.8 190.9 1059.1 184.9 1065.4 181.1C1072.4 176.8 1082.3 175.0 1090.8 172.6C1099.2 170.2 1109.5 167.2 1116.1 166.7C1120.2 166.4 1124.2 166.3 1126.3 167.5C1127.7 168.3 1128.2 169.3 1128.8 170.9C1129.9 173.9 1129.4 180.3 1129.7 185.0"/>
<path d="M1129.7 185.0C1129.7 188.5 1130.1 191.6 1129.7 195.5C1129.2 200.5 1128.6 207.0 1126.5 212.5C1124.3 218.4 1120.8 224.5 1116.5 229.5C1111.9 234.7 1106.0 239.2 1099.5 243.0C1092.1 247.3 1082.9 249.5 1074.0 253.5C1064.1 257.9 1053.5 263.1 1042.8 268.5C1031.2 274.4 1018.0 282.8 1006.7 287.5C997.3 291.4 987.4 291.8 980.0 296.0C973.5 299.6 968.5 307.6 964.0 310.0C961.4 311.4 958.5 313.1 957.0 312.0C954.4 310.1 957.0 298.1 957.0 290.0C957.0 280.1 955.4 265.1 957.0 257.0C958.0 252.1 959.5 249.0 961.8 245.5C964.3 241.7 967.6 238.4 972.0 235.2C977.9 230.9 986.7 226.9 995.4 223.5C1005.5 219.5 1020.4 215.9 1029.2 213.5C1034.9 212.0 1040.0 212.6 1043.2 210.0C1046.0 207.7 1045.5 203.5 1048.0 200.0C1051.8 194.8 1058.5 187.3 1065.4 183.0C1072.7 178.5 1082.3 176.5 1090.8 174.0C1099.2 171.5 1109.5 168.5 1116.1 168.0C1120.2 167.7 1124.2 167.7 1126.3 168.8C1127.6 169.5 1128.0 170.9 1128.8 172.0"/>
<path d="M1000.7 285.3C1000.7 280.2 1000.7 275.0 1000.7 270.0C1000.7 265.3 1000.2 260.8 1000.7 256.1C1001.2 251.1 1001.9 244.7 1003.9 240.9C1005.4 238.1 1007.7 236.4 1010.2 234.6C1013.1 232.5 1016.7 231.4 1020.4 229.5C1024.8 227.3 1030.9 224.4 1035.0 222.0C1038.2 220.2 1041.6 219.4 1043.2 216.8C1045.0 213.9 1043.9 208.8 1044.5 205.0C1045.1 201.3 1044.5 196.8 1047.0 194.0C1050.2 190.4 1058.7 189.0 1064.8 187.6C1070.9 186.2 1080.8 184.0 1083.8 185.7C1085.3 186.6 1085.3 188.1 1085.7 190.0C1086.4 193.4 1085.7 200.0 1085.7 205.0C1085.7 210.1 1086.4 216.2 1085.7 220.6C1085.1 224.0 1084.5 227.0 1082.6 229.5C1080.6 232.2 1077.1 233.7 1073.7 235.8C1069.4 238.4 1063.5 240.8 1058.5 243.5C1053.4 246.3 1047.7 249.1 1043.2 252.3C1039.3 255.1 1036.6 258.0 1033.0 261.2C1029.0 264.7 1024.6 268.8 1020.4 272.6C1016.2 276.4 1011.0 281.7 1007.7 284.0C1005.8 285.3 1004.3 286.5 1003.0 286.5C1002.1 286.5 1001.5 285.7 1000.7 285.3"/>
<path d="M1000.7 283.0C1000.7 274.7 999.8 265.3 1000.7 258.0C1001.4 252.2 1002.3 246.4 1004.5 242.5C1006.1 239.6 1008.4 237.9 1011.0 236.0C1013.8 234.0 1017.0 233.1 1021.0 231.0C1027.0 227.9 1039.4 224.3 1043.2 219.0C1046.1 215.0 1043.0 208.8 1045.8 205.0C1049.2 200.4 1058.4 197.2 1064.8 195.2C1070.8 193.3 1079.8 191.4 1083.0 192.7C1084.6 193.3 1085.1 194.2 1085.7 196.0C1087.2 200.3 1086.8 214.6 1085.7 221.0C1085.0 225.2 1084.1 228.3 1082.0 231.0C1079.9 233.8 1076.4 235.3 1073.0 237.5C1068.8 240.2 1063.4 242.7 1058.5 245.5C1053.4 248.4 1047.7 251.4 1043.2 254.5C1039.3 257.2 1036.6 259.9 1033.0 263.0C1028.9 266.6 1024.4 271.2 1020.0 275.0C1015.7 278.7 1010.7 284.9 1007.0 285.5C1004.6 285.9 1002.8 283.8 1000.7 283.0"/>
<path d="M1022.3 287.0C1022.3 278.0 1022.3 268.5 1022.3 260.0C1022.3 252.4 1020.9 243.1 1022.3 238.4C1023.1 235.8 1024.3 234.6 1026.0 233.0C1028.2 231.0 1032.1 229.8 1035.0 228.0C1037.9 226.2 1041.4 224.8 1043.2 222.0C1045.2 218.9 1044.8 213.4 1046.0 210.0C1047.0 207.2 1047.5 204.6 1049.6 202.8C1052.1 200.6 1058.5 198.3 1061.0 199.0C1062.6 199.5 1063.5 201.1 1064.2 203.0C1065.4 206.3 1064.2 213.2 1064.2 218.0C1064.2 222.4 1065.1 227.6 1064.2 230.8C1063.6 233.0 1062.5 234.2 1061.0 235.8C1058.9 238.0 1055.0 239.8 1052.1 242.2C1049.0 244.8 1046.2 247.9 1043.2 251.1C1039.9 254.6 1036.1 258.7 1033.0 262.5C1030.1 266.0 1026.8 269.0 1025.0 273.0C1023.1 277.1 1023.2 282.3 1022.3 287.0"/>
<path d="M1035.6 279.0C1035.6 271.0 1035.6 262.7 1035.6 255.0C1035.6 247.9 1034.3 239.2 1035.6 234.6C1036.3 232.0 1037.7 230.8 1039.0 229.0C1040.3 227.2 1042.1 226.1 1043.2 224.0C1044.6 221.4 1044.6 216.6 1046.0 214.0C1047.1 212.1 1048.9 209.5 1050.0 209.5C1050.8 209.5 1051.6 210.6 1052.1 212.0C1053.4 215.5 1053.5 228.3 1052.1 233.3C1051.2 236.3 1049.4 237.5 1048.0 240.0C1046.4 243.0 1044.7 246.3 1043.2 250.0C1041.4 254.4 1039.3 260.0 1038.0 265.0C1036.8 269.7 1036.4 274.3 1035.6 279.0"/>
</g>
</svg></body></html>
